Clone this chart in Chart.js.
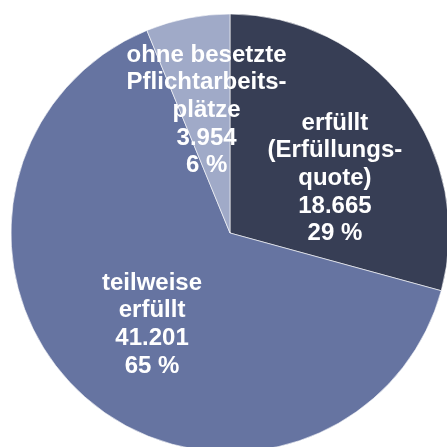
<!DOCTYPE html>
<html>
<head>
<meta charset="utf-8">
<script src="https://cdn.jsdelivr.net/npm/chart.js@4/dist/chart.umd.min.js"></script>
<style>
html,body{margin:0;padding:0;overflow:hidden;background:#fff;width:447px;height:447px;}
#c{position:absolute;left:0;top:0;}
</style>
</head>
<body>
<canvas id="c" width="460" height="466"></canvas>
<script>
const categories = ["erfüllt (Erfüllungsquote)", "teilweise erfüllt", "ohne besetzte Pflichtarbeitsplätze"];
const labelLines = [
  ["erfüllt", "(Erfüllungs-", "quote)"],
  ["teilweise", "erfüllt"],
  ["ohne besetzte", "Pflichtarbeits-", "plätze"]
];
const values = [18665, 41201, 3954];
const valueTexts = ["18.665", "41.201", "3.954"];
const percentTexts = ["29 %", "65 %", "6 %"];
const colors = ["#373e55", "#6674a1", "#a0aac8"];

// label placement relative to pie centre, in units of the radius (layout only)
const labelOffsets = [[0.479, -0.249], [-0.356, 0.418], [-0.107, -0.560]];

const labelPlugin = {
  id: 'sliceLabels',
  afterDatasetsDraw(chart) {
    const ctx = chart.ctx;
    const meta = chart.getDatasetMeta(0);
    meta.data.forEach((arc, i) => {
      const {x, y, outerRadius} = arc.getProps(['x','y','outerRadius'], true);
      const lines = labelLines[i].concat([valueTexts[i], percentTexts[i]]);
      const cx = x + labelOffsets[i][0] * outerRadius;
      const cy = y + labelOffsets[i][1] * outerRadius;
      const lh = 27.7;
      ctx.save();
      ctx.font = 'bold 24px "Liberation Sans", Arial, sans-serif';
      ctx.fillStyle = '#ffffff';
      ctx.textAlign = 'center';
      ctx.textBaseline = 'middle';
      const top = cy - (lines.length - 1) * lh / 2;
      lines.forEach((t, k) => ctx.fillText(t, cx, top + k * lh));
      ctx.restore();
    });
  }
};

new Chart(document.getElementById('c'), {
  type: 'pie',
  data: {
    labels: categories,
    datasets: [{
      data: values,
      backgroundColor: colors,
      borderColor: 'rgba(255,255,255,0.6)',
      borderWidth: 1
    }]
  },
  options: {
    responsive: false,
    animation: false,
    radius: 219,
    layout: {padding: 0},
    plugins: {legend: {display: false}, tooltip: {enabled: false}}
  },
  plugins: [labelPlugin]
});
</script>
</body>
</html>
